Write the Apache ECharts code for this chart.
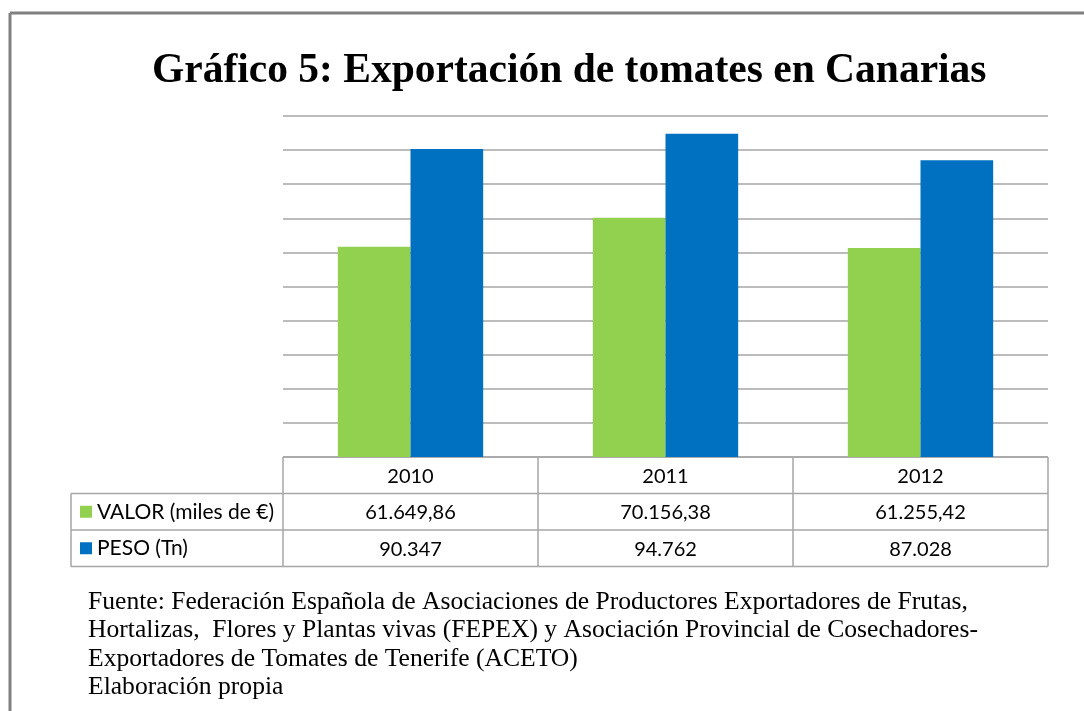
<!DOCTYPE html>
<html>
<head>
<meta charset="utf-8">
<script src="https://cdn.jsdelivr.net/npm/echarts@6/dist/echarts.min.js"></script>
<style>
  html, body { margin: 0; padding: 0; background: #fff; }
  #chart { width: 1084px; height: 711px; }
</style>
</head>
<body>
<div id="chart"></div>
<script>
const years = ['2010', '2011', '2012']
const valor = [61649.86, 70156.38, 61255.42]
const peso = [90347, 94762, 87028]
const seriesNames = ['VALOR (miles de €)', 'PESO (Tn)']
const seriesColors = ['#92d050', '#0070c0']
const footnote = [
  'Fuente: Federación Española de Asociaciones de Productores Exportadores de Frutas,',
  'Hortalizas,  Flores y Plantas vivas (FEPEX) y Asociación Provincial de Cosechadores-',
  'Exportadores de Tomates de Tenerife (ACETO)',
  'Elaboración propia'
]

// spanish number format: 61.649,86
const fmt = (v, dec) => {
  const parts = v.toFixed(dec).split('.')
  const int = parts[0].replace(/\B(?=(\d{3})+(?!\d))/g, '.')
  return parts[1] ? int + ',' + parts[1] : int
}

const gridLeft = 283, gridRight = 1048, gridTop = 116, gridBottom = 457
const rowH = 36.5
const labelLeft = 71
const lineColor = '#a6a6a6'
const tableFont = 'Lato, "Open Sans", sans-serif'

const chart = echarts.init(document.getElementById('chart'))

const tableLines = []
const hLine = (x1, x2, y) => tableLines.push({ type: 'line', shape: { x1, y1: y, x2, y2: y }, style: { stroke: lineColor, lineWidth: 1.5 }, silent: true })
const vLine = (x, y1, y2) => tableLines.push({ type: 'line', shape: { x1: x, y1, x2: x, y2 }, style: { stroke: lineColor, lineWidth: 1.5 }, silent: true })

const tableBottom = gridBottom + rowH * 3
hLine(gridLeft, gridRight, gridBottom)
hLine(labelLeft, gridRight, gridBottom + rowH)
hLine(labelLeft, gridRight, gridBottom + rowH * 2)
hLine(labelLeft, gridRight, tableBottom)
vLine(labelLeft, gridBottom + rowH, tableBottom)
const colW = (gridRight - gridLeft) / years.length
for (let i = 0; i <= years.length; i++) {
  vLine(gridLeft + colW * i, gridBottom, tableBottom)
}

const legendItems = []
seriesNames.forEach((name, i) => {
  const cy = gridBottom + rowH * (i + 1.5)
  legendItems.push({
    type: 'rect',
    shape: { x: 80, y: cy - 6, width: 12, height: 12 },
    style: { fill: seriesColors[i] },
    silent: true
  })
  legendItems.push({
    type: 'text',
    x: 97, y: cy,
    style: { text: name, font: '21px ' + tableFont, fill: '#000', textVerticalAlign: 'middle' },
    silent: true
  })
})

const footItems = footnote.map((line, i) => ({
  type: 'text',
  x: 88, y: 602 + i * 28.5,
  style: { text: line, font: '25.6px "Liberation Serif", "Times New Roman", serif', fill: '#000', textVerticalAlign: 'middle' },
  silent: true
}))

const option = {
  animation: false,
  backgroundColor: '#fff',
  title: {
    text: 'Gráfico 5: Exportación de tomates en Canarias',
    left: 147,
    top: 45,
    textStyle: {
      fontFamily: '"Liberation Serif", "Times New Roman", serif',
      fontWeight: 'bold',
      fontSize: 41.5,
      color: '#000'
    }
  },
  grid: {
    left: gridLeft,
    right: 1084 - gridRight,
    top: gridTop,
    bottom: 711 - gridBottom,
    containLabel: false
  },
  xAxis: {
    type: 'category',
    data: years,
    axisLine: { show: false },
    axisTick: { show: false },
    axisLabel: {
      margin: 1,
      interval: 0,
      fontFamily: tableFont,
      fontSize: 20,
      color: '#000',
      lineHeight: rowH,
      formatter: (v, i) => v + '\n' + fmt(valor[i], 2) + '\n' + fmt(peso[i], 0)
    }
  },
  yAxis: {
    type: 'value',
    min: 0,
    max: 100000,
    interval: 10000,
    axisLabel: { show: false },
    axisLine: { show: false },
    axisTick: { show: false },
    splitLine: { lineStyle: { color: lineColor, width: 1.5 } }
  },
  series: [
    {
      name: seriesNames[0],
      type: 'bar',
      data: valor,
      barGap: '0%',
      barCategoryGap: '43%',
      itemStyle: { color: seriesColors[0] }
    },
    {
      name: seriesNames[1],
      type: 'bar',
      data: peso,
      itemStyle: { color: seriesColors[1] }
    }
  ],
  graphic: [
    { type: 'line', shape: { x1: 10, y1: 13, x2: 1084, y2: 13 }, style: { stroke: '#808080', lineWidth: 3 }, silent: true },
    { type: 'line', shape: { x1: 10, y1: 13, x2: 10, y2: 711 }, style: { stroke: '#808080', lineWidth: 3 }, silent: true },
    ...tableLines,
    ...legendItems,
    ...footItems
  ]
}

chart.setOption(option)
</script>
</body>
</html>
